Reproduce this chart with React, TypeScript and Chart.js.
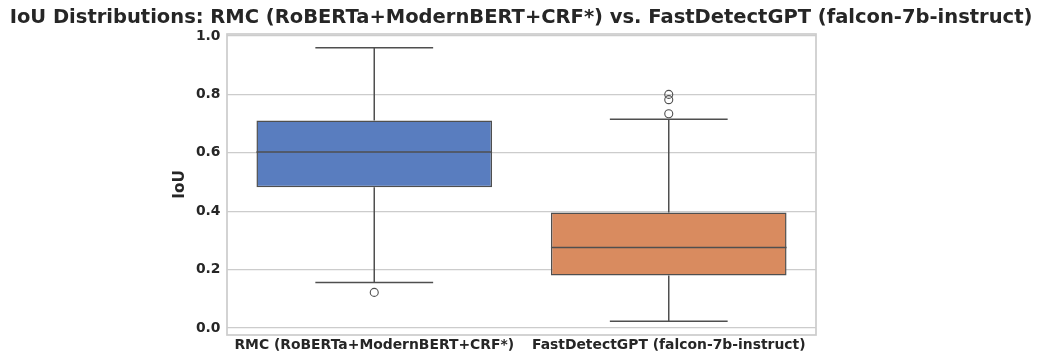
import React, { useEffect, useRef } from "react";
import { Chart, registerables } from "chart.js";

Chart.register(...registerables);

// ---- data ----
const categories = ["RMC (RoBERTa+ModernBERT+CRF*)", "FastDetectGPT (falcon-7b-instruct)"];
const q1Values = [0.482, 0.18];
const medianValues = [0.603, 0.276];
const q3Values = [0.711, 0.396];
const whiskerLowValues = [0.156, 0.023];
const whiskerHighValues = [0.96, 0.715];
const rmcOutliers = [0.122];
const fdgOutliers = [0.734, 0.782, 0.8];
const yTickStep = 0.2;
const titleText = "IoU Distributions: RMC (RoBERTa+ModernBERT+CRF*) vs. FastDetectGPT (falcon-7b-instruct)";
const yAxisTitle = "IoU";

// ---- styles ----
const boxColors = ["#597dbf", "#d98b5f"];
const lineColor = "#4f4f4f";
const textColor = "#262626";
const gridColor = "#cccccc";
const fontFamily = "'DejaVu Sans', sans-serif";

const allLow = Math.min(...whiskerLowValues, ...rmcOutliers, ...fdgOutliers);
const allHigh = Math.max(...whiskerHighValues, ...rmcOutliers, ...fdgOutliers);
const yPad = 0.05 * (allHigh - allLow);

const boxPlugin = {
  id: "boxWhiskers",
  beforeDatasetsDraw(chart: any) {
    const { ctx, chartArea } = chart;
    const y = chart.scales.y;
    const meta = chart.getDatasetMeta(0);
    ctx.save();
    // frame (spines)
    ctx.strokeStyle = gridColor;
    ctx.lineWidth = 1.7;
    ctx.strokeRect(chartArea.left, chartArea.top, chartArea.right - chartArea.left, chartArea.bottom - chartArea.top);
    // whiskers and caps
    ctx.strokeStyle = lineColor;
    ctx.lineWidth = 1.5;
    meta.data.forEach((bar: any, i: number) => {
      const { x, width } = bar.getProps(["x", "width"], true);
      const yQ1 = y.getPixelForValue(q1Values[i]);
      const yQ3 = y.getPixelForValue(q3Values[i]);
      const yLo = y.getPixelForValue(whiskerLowValues[i]);
      const yHi = y.getPixelForValue(whiskerHighValues[i]);
      const capHalf = width / 4;
      ctx.beginPath();
      ctx.moveTo(x, yQ3);
      ctx.lineTo(x, yHi);
      ctx.moveTo(x - capHalf, yHi);
      ctx.lineTo(x + capHalf, yHi);
      ctx.moveTo(x, yQ1);
      ctx.lineTo(x, yLo);
      ctx.moveTo(x - capHalf, yLo);
      ctx.lineTo(x + capHalf, yLo);
      ctx.stroke();
    });
    ctx.restore();
  },
  afterDatasetsDraw(chart: any) {
    const { ctx } = chart;
    const y = chart.scales.y;
    const meta = chart.getDatasetMeta(0);
    ctx.save();
    ctx.strokeStyle = lineColor;
    ctx.lineWidth = 1.5;
    meta.data.forEach((bar: any, i: number) => {
      const { x, width } = bar.getProps(["x", "width"], true);
      const yMed = y.getPixelForValue(medianValues[i]);
      ctx.beginPath();
      ctx.moveTo(x - width / 2, yMed);
      ctx.lineTo(x + width / 2, yMed);
      ctx.stroke();
    });
    ctx.restore();
  },
};

export default function App() {
  const canvasRef = useRef<HTMLCanvasElement | null>(null);

  useEffect(() => {
    if (!canvasRef.current) return;
    const outlierPoints = [
      ...rmcOutliers.map((v) => ({ x: categories[0], y: v })),
      ...fdgOutliers.map((v) => ({ x: categories[1], y: v })),
    ];
    const chart = new Chart(canvasRef.current, {
      type: "bar",
      data: {
        labels: categories,
        datasets: [
          {
            type: "bar",
            label: "box",
            data: categories.map((_, i) => [q1Values[i], q3Values[i]]) as any,
            backgroundColor: boxColors,
            borderColor: lineColor,
            borderWidth: 1.5,
            borderSkipped: false,
            barPercentage: 0.8,
            categoryPercentage: 1.0,
          } as any,
          {
            type: "scatter",
            label: "outliers",
            data: outlierPoints as any,
            pointRadius: 4,
            pointBorderWidth: 1.1,
            pointBorderColor: lineColor,
            pointBackgroundColor: "rgba(0,0,0,0)",
            showLine: false,
          } as any,
        ],
      },
      options: {
        animation: false,
        responsive: false,
        events: [],
        layout: { padding: 0, autoPadding: false } as any,
        plugins: {
          legend: { display: false },
          tooltip: { enabled: false },
          title: {
            display: true,
            text: titleText,
            color: textColor,
            font: { family: fontFamily, size: 19.5, weight: "bold" },
            padding: { top: 6.4, bottom: 4.2 },
          },
        },
        scales: {
          x: {
            type: "category",
            labels: categories,
            grid: { display: false, drawTicks: false },
            border: { display: false },
            ticks: {
              color: textColor,
              font: { family: fontFamily, size: 13.9, weight: "bold" },
              padding: 2.5,
              maxRotation: 0,
              autoSkip: false,
            },
            afterFit: (s: any) => {
              s.height = 29;
            },
          },
          y: {
            type: "linear",
            min: allLow - yPad,
            max: allHigh + yPad,
            grid: { color: gridColor, lineWidth: 1.3, drawTicks: false },
            border: { display: false },
            ticks: {
              stepSize: yTickStep,
              includeBounds: false,
              color: textColor,
              font: { family: fontFamily, size: 13.9, weight: "bold" },
              padding: 6.5,
              callback: (v: any) => Number(v).toFixed(1),
            },
            title: {
              display: true,
              text: yAxisTitle,
              color: textColor,
              font: { family: fontFamily, size: 15.3, weight: "bold" },
              padding: { top: 171, bottom: 0 },
            },
            afterFit: (s: any) => {
              s.width = 227;
            },
          },
          yRight: {
            type: "linear",
            position: "right",
            display: true,
            grid: { display: false, drawTicks: false },
            border: { display: false },
            ticks: { display: false },
            afterFit: (s: any) => {
              s.width = 226;
            },
          },
        },
      } as any,
      plugins: [boxPlugin],
    });
    return () => chart.destroy();
  }, []);

  return (
    <div style={{ position: "absolute", left: 0, top: 0, width: 1042, height: 364, background: "#fff" }}>
      <canvas ref={canvasRef} width={1042} height={364} />
    </div>
  );
}
